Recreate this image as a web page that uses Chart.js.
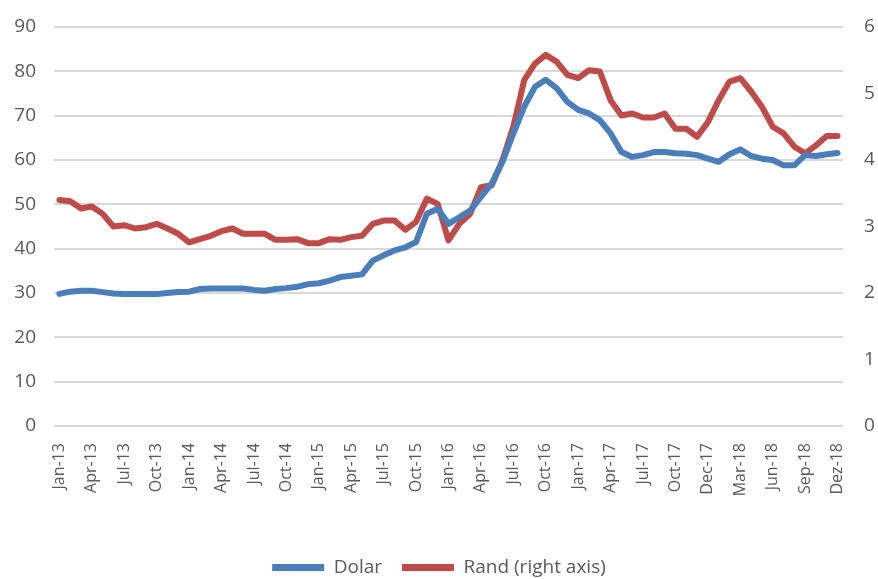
<!DOCTYPE html>
<html>
<head>
<meta charset="utf-8">
<script src="https://cdn.jsdelivr.net/npm/chart.js@4/dist/chart.umd.min.js"></script>
<style>
  html, body { margin: 0; padding: 0; background: #fff; }
  #wrap { width: 878px; height: 579px; }
</style>
</head>
<body>
<div id="wrap"><canvas id="chart"></canvas></div>
<script>
// axis labels shown every third month (as in the source chart)
let tickLabels = ["Jan-13", "Apr-13", "Jul-13", "Oct-13", "Jan-14", "Apr-14", "Jul-14",
  "Oct-14", "Jan-15", "Apr-15", "Jul-15", "Oct-15", "Jan-16", "Apr-16", "Jul-16",
  "Oct-16", "Jan-17", "Apr-17", "Jul-17", "Oct-17", "Dec-17", "Mar-18", "Jun-18",
  "Sep-18", "Dez-18"];

let dolar = [29.8, 30.3, 30.5, 30.5, 30.2, 29.9, 29.8, 29.8, 29.8, 29.8, 30.0, 30.2,
  30.3, 30.9, 31.0, 31.0, 31.0, 31.0, 30.7, 30.5, 30.9, 31.1, 31.4, 32.0,
  32.2, 32.8, 33.6, 33.9, 34.2, 37.3, 38.5, 39.6, 40.3, 41.5, 47.9, 49.0,
  45.6, 47.1, 48.6, 51.7, 54.7, 59.6, 66.0, 72.0, 76.5, 78.1, 76.2, 73.1,
  71.3, 70.5, 69.0, 66.0, 61.8, 60.7, 61.1, 61.8, 61.8, 61.5, 61.4, 61.1,
  60.3, 59.6, 61.3, 62.4, 60.9, 60.3, 60.0, 58.8, 58.8, 61.1, 60.9, 61.3, 61.6];

let rand = [3.40, 3.38, 3.27, 3.30, 3.19, 3.00, 3.02, 2.97, 2.99, 3.04, 2.97, 2.89,
  2.76, 2.81, 2.86, 2.93, 2.97, 2.89, 2.89, 2.89, 2.80, 2.80, 2.81, 2.75,
  2.75, 2.81, 2.80, 2.84, 2.86, 3.04, 3.09, 3.09, 2.95, 3.07, 3.42, 3.34,
  2.79, 3.04, 3.19, 3.59, 3.62, 4.00, 4.50, 5.20, 5.45, 5.58, 5.48, 5.28,
  5.23, 5.35, 5.33, 4.90, 4.67, 4.70, 4.64, 4.64, 4.70, 4.47, 4.47, 4.35,
  4.57, 4.90, 5.18, 5.23, 5.03, 4.80, 4.50, 4.40, 4.20, 4.10, 4.22, 4.36, 4.36];

let categories = dolar.map(function(v, i) {
  return i % 3 === 0 ? tickLabels[i / 3] : "";
});

let textColor = "#595959";
let font = "'Open Sans', 'Noto Sans', sans-serif";

// fixed axis widths, and no extra label padding above/below the plot
function fitY(width) {
  return function(scale) {
    scale.width = width;
    scale.paddingTop = 0;
    scale.paddingBottom = 0;
  };
}

let ctx = document.getElementById("chart").getContext("2d");
new Chart(ctx, {
  type: "line",
  data: {
    labels: categories,
    datasets: [
      {
        label: "Dolar",
        data: dolar,
        yAxisID: "y",
        borderColor: "#4a7ebb",
        backgroundColor: "#4a7ebb",
        borderWidth: 6,
        pointRadius: 0,
        borderJoinStyle: "round",
        borderCapStyle: "round"
      },
      {
        label: "Rand (right axis)",
        data: rand,
        yAxisID: "y1",
        borderColor: "#be4b48",
        backgroundColor: "#be4b48",
        borderWidth: 6,
        pointRadius: 0,
        borderJoinStyle: "round",
        borderCapStyle: "round"
      }
    ]
  },
  options: {
    responsive: true,
    maintainAspectRatio: false,
    animation: false,
    layout: { padding: { top: 27, left: 0, right: 0, bottom: -8 } },
    plugins: {
      tooltip: { enabled: false },
      legend: {
        position: "bottom",
        labels: {
          color: textColor,
          font: { family: font, size: 19 },
          boxWidth: 52,
          boxHeight: 7,
          padding: 20,
          generateLabels: function(chart) {
            return Chart.defaults.plugins.legend.labels.generateLabels(chart).map(function(l) {
              l.lineWidth = 0;
              return l;
            });
          }
        }
      }
    },
    scales: {
      x: {
        offset: true,
        grid: { display: false, drawTicks: false },
        border: { display: false },
        ticks: {
          autoSkip: false,
          maxRotation: 90,
          minRotation: 90,
          padding: 17,
          color: textColor,
          font: { family: font, size: 16 }
        },
        afterFit: function(scale) { scale.height = 112; }
      },
      y: {
        position: "left",
        min: 0,
        max: 90,
        ticks: {
          stepSize: 10,
          padding: 18,
          color: textColor,
          font: { family: font, size: 19 }
        },
        grid: { color: "#d9d9d9", lineWidth: 2, drawTicks: false },
        border: { display: false },
        afterFit: fitY(54)
      },
      y1: {
        position: "right",
        min: 0,
        max: 6,
        ticks: {
          stepSize: 1,
          padding: 21,
          color: textColor,
          font: { family: font, size: 19 }
        },
        grid: { drawOnChartArea: false, drawTicks: false },
        border: { display: false },
        afterFit: fitY(35)
      }
    }
  }
});
</script>
</body>
</html>
